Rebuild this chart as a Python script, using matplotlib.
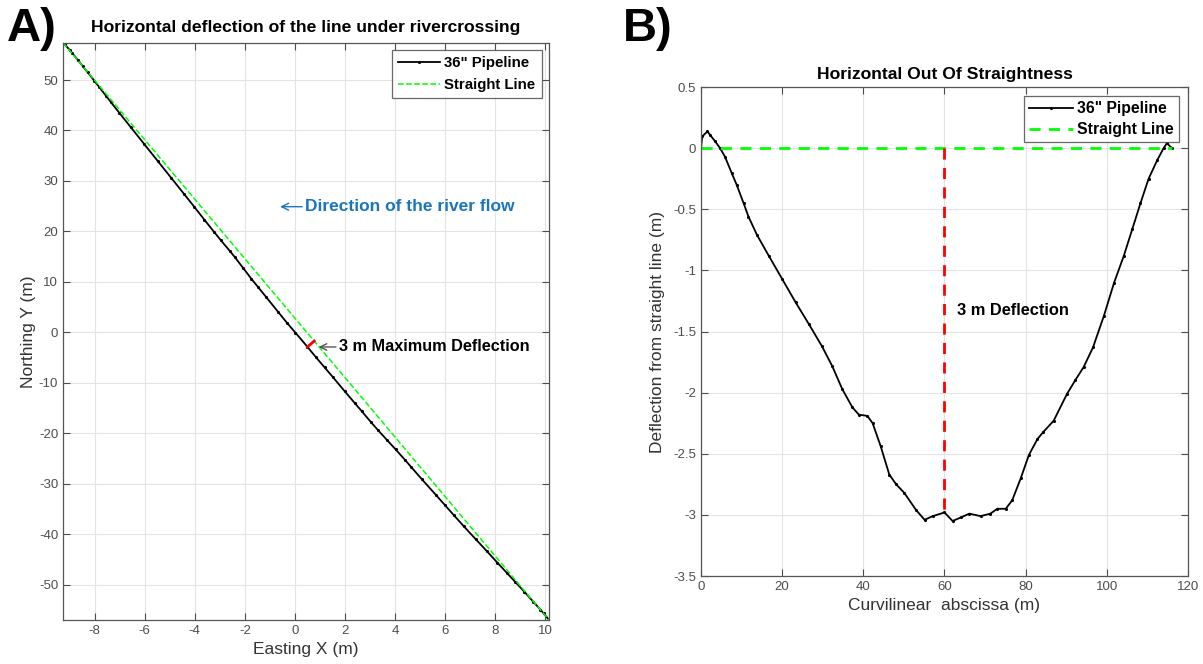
import matplotlib.pyplot as plt
import numpy as np

plt.rcParams['font.family'] = ['Liberation Sans', 'DejaVu Sans']
plt.rcParams['axes.unicode_minus'] = False

# deflection profile (curvilinear abscissa, m / deflection, m)
s_pipe = [0, 0.3, 1.6, 2.2, 3.5, 4.7, 5.9, 7.6, 8.8, 10.5, 11.7, 13.8, 16.7, 20.0,
          23.3, 26.6, 29.8, 32.3, 34.8, 37.3, 38.9, 41.0, 42.3, 44.3, 46.4, 48.1,
          50.1, 53.0, 55.1, 57.1, 60.0, 62.0, 64.1, 66.1, 68.9, 71.3, 73.0, 75.1,
          76.7, 78.8, 80.8, 82.9, 84.4, 86.9, 90.2, 92.2, 94.3, 96.6, 99.3, 101.8,
          104.2, 106.3, 108.3, 110.3, 112.4, 114.0, 114.8, 116.1]
defl_pipe = [0, 0.096, 0.137, 0.11, 0.055, 0, -0.069, -0.206, -0.30, -0.45, -0.56,
             -0.71, -0.88, -1.07, -1.26, -1.44, -1.62, -1.78, -1.97, -2.12, -2.18,
             -2.19, -2.25, -2.44, -2.67, -2.75, -2.82, -2.96, -3.04, -3.01, -2.98,
             -3.05, -3.02, -2.99, -3.01, -2.99, -2.95, -2.95, -2.88, -2.70, -2.51,
             -2.38, -2.32, -2.23, -2.01, -1.90, -1.79, -1.63, -1.37, -1.10, -0.88,
             -0.66, -0.45, -0.25, -0.10, 0, 0.04, 0.0]

# straight line between entry and exit points (Easting, Northing)
east_ends = [-9.26, 10.15]
north_ends = [57.4, -57.0]
s_max_defl = 60.0
defl_max = -2.98

# shift of the plotted pipeline per metre of deflection (E, N)
shift = (0.09, 0.39)

s_arr = np.array(s_pipe)
d_arr = np.array(defl_pipe)
frac = s_arr / s_arr[-1]
east_str = east_ends[0] + frac * (east_ends[1] - east_ends[0])
north_str = north_ends[0] + frac * (north_ends[1] - north_ends[0])
east_pipe = east_str + d_arr * shift[0]
north_pipe = north_str + d_arr * shift[1]

f_m = s_max_defl / s_arr[-1]
e_m = east_ends[0] + f_m * (east_ends[1] - east_ends[0])
n_m = north_ends[0] + f_m * (north_ends[1] - north_ends[0])

tick_col = '#4d4d4d'

fig = plt.figure(figsize=(12.03, 6.64), dpi=100)

def style(ax):
    ax.grid(True, color='#e3e3e3', linewidth=0.8)
    ax.set_axisbelow(True)
    ax.tick_params(direction='in', top=True, right=True, labelsize=9.5,
                   colors=tick_col, length=5, width=0.8)
    for sp in ax.spines.values():
        sp.set_color('#555555')
        sp.set_linewidth(0.9)

# ---- panel A
ax1 = fig.add_axes([0.0524, 0.0663, 0.404, 0.8694])
ax1.plot(east_pipe, north_pipe, '-', color='k', marker='.', markersize=2.5,
         linewidth=1.3, label='36" Pipeline')
ax1.plot(east_ends, north_ends, '--', color='#00ff00', linewidth=1.1,
         label='Straight Line')
ax1.plot([e_m + defl_max * shift[0], e_m], [n_m + defl_max * shift[1], n_m],
         '-', color='red', linewidth=2)
ax1.set_xlim(east_ends[0], east_ends[1])
ax1.set_ylim(north_ends[1], north_ends[0])
ax1.set_xticks(np.arange(-8, 11, 2))
ax1.set_yticks(np.arange(-50, 51, 10))
style(ax1)
ax1.set_xlabel('Easting X (m)', fontsize=12.5, color='#333333', labelpad=4)
ax1.set_ylabel('Northing Y (m)', fontsize=12.5, color='#333333', labelpad=2)
ax1.set_title('Horizontal deflection of the line under rivercrossing',
              fontsize=12.6, fontweight='bold', pad=8)
ax1.annotate('3 m Maximum Deflection', xy=(0.95, -2.9), xytext=(1.75, -2.9),
             fontsize=11.7, fontweight='bold', va='center', ha='left',
             arrowprops=dict(arrowstyle='->', color='#555555', lw=1,
                             shrinkA=0, shrinkB=0))
ax1.annotate('Direction of the river flow', xy=(-0.59, 24.9), xytext=(0.4, 24.9),
             fontsize=12.5, fontweight='bold', color='#1a75c0', va='center',
             ha='left', arrowprops=dict(arrowstyle='->', color='#1a75c0', lw=1,
                                        shrinkA=0, shrinkB=0))
leg1 = ax1.legend(loc='upper right', prop={'weight': 'bold', 'size': 10.8},
                  fancybox=False, edgecolor='#444444', borderpad=0.4,
                  handlelength=2.8, handletextpad=0.3, labelspacing=0.55,
                  borderaxespad=0.5)
leg1.get_frame().set_linewidth(0.9)

# ---- panel B
ax2 = fig.add_axes([0.5827, 0.1325, 0.4048, 0.7364])
ax2.plot(s_pipe, defl_pipe, '-', color='k', marker='.', markersize=2.5,
         linewidth=1.3, label='36" Pipeline')
ax2.plot([0, s_pipe[-1]], [0, 0], '--', color='#00ff00', linewidth=2,
         dashes=(4, 3), label='Straight Line')
ax2.plot([s_max_defl, s_max_defl], [0, defl_max], '--', color='red',
         linewidth=2, dashes=(4, 3))
ax2.set_xlim(0, 120)
ax2.set_ylim(-3.5, 0.5)
ax2.set_xticks(np.arange(0, 121, 20))
ax2.set_yticks(np.arange(-3.5, 0.51, 0.5))
ax2.set_yticklabels(['-3.5', '-3', '-2.5', '-2', '-1.5', '-1', '-0.5', '0', '0.5'])
style(ax2)
ax2.set_xlabel('Curvilinear  abscissa (m)', fontsize=12.5, color='#333333', labelpad=4)
ax2.set_ylabel('Deflection from straight line (m)', fontsize=12.5, color='#333333',
               labelpad=6)
ax2.set_title('Horizontal Out Of Straightness', fontsize=12.6, fontweight='bold', pad=6)
ax2.text(63.2, -1.33, '3 m Deflection', fontsize=11.8, fontweight='bold',
         va='center', ha='left')
leg2 = ax2.legend(loc='upper right', prop={'weight': 'bold', 'size': 11.3},
                  fancybox=False, edgecolor='#444444', borderpad=0.3,
                  handlelength=2.8, handletextpad=0.3, labelspacing=0.4,
                  borderaxespad=0.6)
leg2.get_frame().set_linewidth(0.9)

fig.text(0.006, 0.99, 'A)', fontsize=34, fontweight='bold', va='top', ha='left')
fig.text(0.518, 0.99, 'B)', fontsize=34, fontweight='bold', va='top', ha='left')

fig.savefig('out.png', dpi=100)
